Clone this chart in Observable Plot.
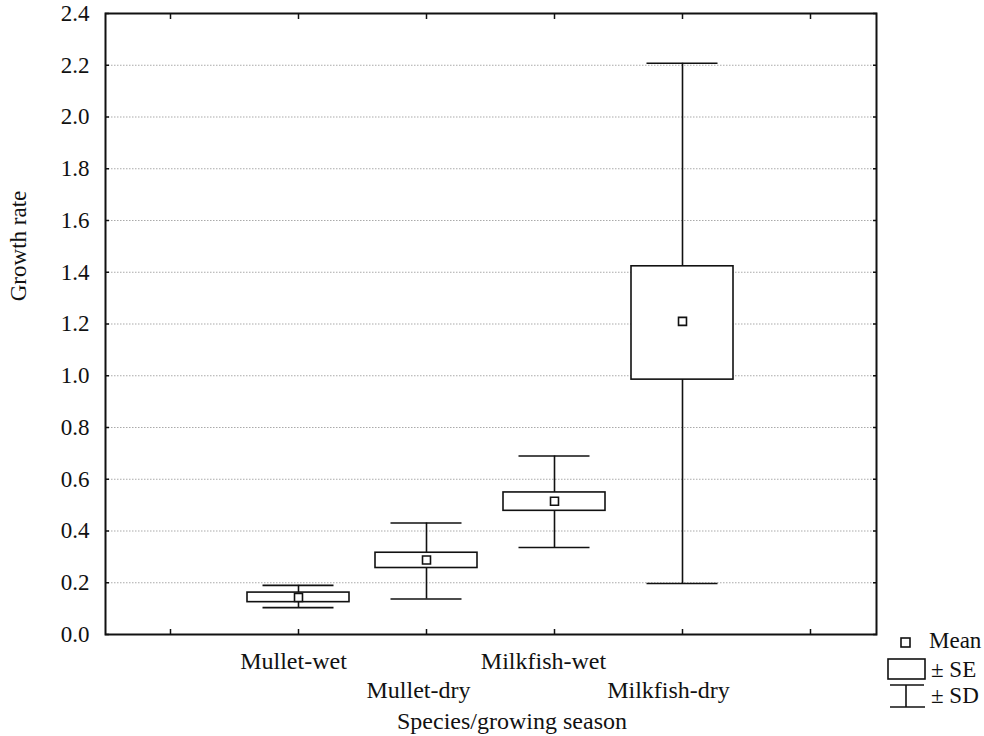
<!DOCTYPE html>
<html><head><meta charset="utf-8">
<script src="https://cdn.jsdelivr.net/npm/d3@7"></script>
<script src="https://cdn.jsdelivr.net/npm/@observablehq/plot@0.6"></script>
<style>body{margin:0;background:#fff;} #chart{width:984px;height:736px;}</style>
</head><body><div id="chart"></div>
<script>
const categories = ["Mullet-wet", "Mullet-dry", "Milkfish-wet", "Milkfish-dry"];
const means  = [0.143, 0.288, 0.515, 1.21];
const seLow  = [0.125, 0.257, 0.478, 0.985];
const seHigh = [0.162, 0.316, 0.549, 1.423];
const sdLow  = [0.104, 0.137, 0.336, 0.197];
const sdHigh = [0.190, 0.431, 0.690, 2.208];
const yTicks = [0, 0.2, 0.4, 0.6, 0.8, 1.0, 1.2, 1.4, 1.6, 1.8, 2.0, 2.2, 2.4];
const gridVals = [0.2, 0.4, 0.6, 0.8, 1.0, 1.2, 1.4, 1.6, 1.8, 2.0, 2.2];
const xDomain = ["pad-left", ...categories, "pad-right"];
const xTitle = "Species/growing season";
const yTitle = "Growth rate";
const legendLabels = ["Mean", "\u00b1 SE", "\u00b1 SD"];

const rows = categories.map((c, i) => ({cat: c, mean: means[i], seLow: seLow[i], seHigh: seHigh[i], sdLow: sdLow[i], sdHigh: sdHigh[i]}));
const font = "'Liberation Serif', 'Times New Roman', serif";
const ink = "#111";

// category labels alternate between two rows, drifting slightly left as in the original
const labelPadding = [17, 46, 17, 46];
const labelShift = [-5, -8, -11, -14];
const labelAxes = categories.map((c, i) =>
  Plot.axisX([c], {anchor: "bottom", tickSize: 0, tickPadding: labelPadding[i], dx: labelShift[i], label: null, fontSize: 24})
);

const plot = Plot.plot({
  width: 984, height: 736,
  marginLeft: 105, marginRight: 108, marginTop: 13, marginBottom: 102,
  style: {fontFamily: font, fontSize: "23px", color: ink, background: "#fff"},
  x: {type: "band", domain: xDomain, paddingInner: 0.2, paddingOuter: 0.1, axis: null},
  y: {domain: [0, 2.4], axis: null},
  marks: [
    Plot.ruleY(gridVals, {stroke: "#aaa", strokeDasharray: "1.5,1.5", strokeWidth: 1.2}),
    Plot.axisY(yTicks, {anchor: "left", tickSize: 0, tickPadding: 16, tickFormat: d => d.toFixed(1), label: null, fontSize: 23}),
    Plot.axisY(yTicks, {anchor: "left", tickSize: 4, dx: 4, tickFormat: () => "", label: null, strokeWidth: 1.5}),
    Plot.axisY(yTicks, {anchor: "right", tickSize: 4, dx: -4, tickFormat: () => "", label: null, strokeWidth: 1.5}),
    Plot.axisX(xDomain, {anchor: "bottom", tickSize: 5, dy: -5, tickFormat: () => "", label: null, strokeWidth: 1.5}),
    Plot.axisX(xDomain, {anchor: "top", tickSize: 5, dy: 5, tickFormat: () => "", label: null, strokeWidth: 1.5}),
    ...labelAxes,
    Plot.ruleX(rows, {x: "cat", y1: "sdLow", y2: "sdHigh", stroke: ink, strokeWidth: 1.6}),
    Plot.tickY(rows, {x: "cat", y: "sdLow", insetLeft: 15.5, insetRight: 15.5, stroke: ink, strokeWidth: 1.6}),
    Plot.tickY(rows, {x: "cat", y: "sdHigh", insetLeft: 15.5, insetRight: 15.5, stroke: ink, strokeWidth: 1.6}),
    Plot.barY(rows, {x: "cat", y1: "seLow", y2: "seHigh", fill: "white", stroke: ink, strokeWidth: 1.6}),
    Plot.dot(rows, {x: "cat", y: "mean", symbol: "square", r: 4.5, fill: "white", stroke: ink, strokeWidth: 1.6}),
    Plot.frame({stroke: ink, strokeWidth: 2}),
    Plot.text([xTitle], {frameAnchor: "bottom", lineAnchor: "top", textAnchor: "middle", dy: 77, dx: 21, fontSize: 24}),
    Plot.text([yTitle], {frameAnchor: "left", rotate: -90, textAnchor: "middle", lineAnchor: "middle", dx: -87, dy: -78, fontSize: 23})
  ]
});

// Legend in pixel space
const svg = d3.select(plot);
const g = svg.append("g").attr("stroke", ink).attr("fill", "none").attr("stroke-width", 1.6);
g.append("rect").attr("x", 901).attr("y", 638).attr("width", 9).attr("height", 9).attr("fill", "white");
g.append("rect").attr("x", 888).attr("y", 659).attr("width", 37).attr("height", 20).attr("fill", "white");
g.append("line").attr("x1", 890).attr("x2", 924).attr("y1", 685).attr("y2", 685);
g.append("line").attr("x1", 906).attr("x2", 906).attr("y1", 685).attr("y2", 707);
g.append("line").attr("x1", 890).attr("x2", 925).attr("y1", 707).attr("y2", 707);
const t = svg.append("g").attr("font-family", font).attr("font-size", 23).attr("fill", ink).attr("text-anchor", "start");
t.append("text").attr("x", 929).attr("y", 648).text(legendLabels[0]);
t.append("text").attr("x", 931).attr("y", 677).text(legendLabels[1]);
t.append("text").attr("x", 931).attr("y", 703).text(legendLabels[2]);

document.getElementById("chart").appendChild(plot);
</script>
</body></html>
